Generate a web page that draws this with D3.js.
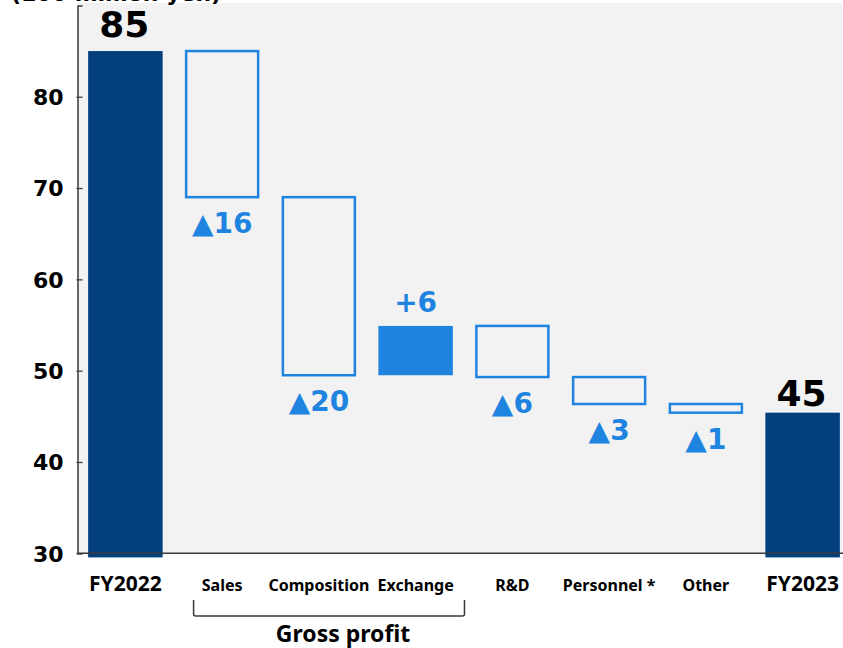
<!DOCTYPE html>
<html>
<head>
<meta charset="utf-8">
<script src="https://cdn.jsdelivr.net/npm/d3@7"></script>
<style>
  html, body { margin: 0; padding: 0; background: #ffffff; }
  svg { display: block; }
</style>
</head>
<body>
<svg id="chart" width="843" height="648"></svg>
<script>
// ---------- data ----------
const categories = ["FY2022", "Sales", "Composition", "Exchange", "R&D", "Personnel *", "Other", "FY2023"];
const kinds      = ["total", "delta", "delta", "delta", "delta", "delta", "delta", "total"];
const values     = [85, -16, -19.5, 5.4, -5.6, -2.95, -0.95, 45.4];
const valueLabels = ["85", "▲16", "▲20", "+6", "▲6", "▲3", "▲1", "45"];
const yTicks     = [30, 40, 50, 60, 70, 80];
const yDomain    = [30, 90];
const unitLabel  = "(100 million yen)";
const groupLabel = "Gross profit";
const groupMembers = ["Sales", "Exchange"];

// ---------- layout ----------
const W = 843, H = 648;
const plot = { left: 77, right: 851, top: 5.4, bottom: 553.3 };
const navy = "#033e7d", blue = "#1f84e0", axisCol = "#3a3a3a";
const numFont = "'DejaVu Sans', Verdana, sans-serif";
const txtFont = "'Noto Sans', 'DejaVu Sans', sans-serif";

const svg = d3.select("#chart");

const x = d3.scaleBand().domain(categories).range([plot.left, plot.right])
  .paddingInner(0.23).paddingOuter(0.115);
const y = d3.scaleLinear().domain(yDomain).range([plot.bottom, plot.top]);

// compute waterfall segments
let running = 0;
const segs = categories.map((c, i) => {
  let lo, hi;
  if (kinds[i] === "total") {
    running = values[i];
    lo = yDomain[0] - 0.45; hi = values[i];
  } else {
    const start = running;
    running = running + values[i];
    lo = Math.min(start, running); hi = Math.max(start, running);
  }
  return { cat: c, kind: kinds[i], v: values[i], lo, hi, label: valueLabels[i] };
});

// background
svg.append("rect")
  .attr("x", plot.left).attr("y", 3)
  .attr("width", W - 1 - plot.left).attr("height", plot.bottom - 3)
  .attr("fill", "#f2f2f2");

// unit label (partly off top, as in the source)
svg.append("text")
  .attr("x", 11).attr("y", 1)
  .attr("font-family", numFont).attr("font-weight", "bold")
  .attr("font-size", 22).attr("fill", "#000")
  .text(unitLabel);

// bars
const bw = x.bandwidth();
segs.forEach(s => {
  const x0 = x(s.cat);
  if (s.kind === "total") {
    svg.append("rect")
      .attr("x", x0).attr("y", y(s.hi))
      .attr("width", bw).attr("height", y(s.lo) - y(s.hi))
      .attr("fill", navy);
  } else if (s.v > 0) {
    svg.append("rect")
      .attr("x", x0).attr("y", y(s.hi))
      .attr("width", bw).attr("height", y(s.lo) - y(s.hi))
      .attr("fill", blue);
  } else {
    svg.append("rect")
      .attr("x", x0 + 1.25).attr("y", y(s.hi))
      .attr("width", bw - 2.5).attr("height", y(s.lo) - y(s.hi))
      .attr("fill", "none").attr("stroke", blue).attr("stroke-width", 2.5);
  }
});

// value labels
segs.forEach((s, i) => {
  const cx = x(s.cat) + bw / 2;
  const t = svg.append("text")
    .attr("text-anchor", "middle")
    .attr("font-family", numFont).attr("font-weight", "bold");
  if (s.kind === "total") {
    t.attr("x", cx - 1).attr("y", y(s.hi) - (i === 0 ? 14 : 6.5))
      .attr("font-size", 36).attr("fill", "#000").text(s.label);
  } else if (s.v > 0) {
    t.attr("x", cx).attr("y", y(s.hi) - 14)
      .attr("font-size", 28).attr("fill", blue).text(s.label);
  } else {
    t.attr("x", cx).attr("y", y(s.lo) + 36)
      .attr("font-size", 28).attr("fill", blue).text(s.label);
  }
});

// y axis
const yAxis = d3.axisLeft(y).tickValues(yTicks).tickSizeInner(-5).tickSizeOuter(-5).tickPadding(14)
  .tickFormat(d3.format("d"));
const gy = svg.append("g").attr("transform", `translate(${plot.left + 0.5},0)`).call(yAxis);
gy.select(".domain").attr("stroke", axisCol).attr("stroke-width", 1.5);
gy.selectAll(".tick line").attr("stroke", axisCol).attr("stroke-width", 1.3).attr("x1", -1);
gy.selectAll(".tick text")
  .attr("font-family", numFont).attr("font-weight", "bold")
  .attr("font-size", 22).attr("fill", "#000").attr("dy", "0.36em");

// x axis baseline
svg.append("line")
  .attr("x1", plot.left).attr("x2", W)
  .attr("y1", y(yDomain[0])).attr("y2", y(yDomain[0]))
  .attr("stroke", axisCol).attr("stroke-width", 1.5);

// category labels
categories.forEach((c, i) => {
  svg.append("text")
    .attr("x", x(c) + bw / 2).attr("y", 591)
    .attr("text-anchor", "middle")
    .attr("font-family", txtFont).attr("font-weight", "bold")
    .attr("font-size", kinds[i] === "total" ? 21 : 16)
    .attr("fill", "#000")
    .text(c);
});

// group bracket
const step = x.step();
const bx0 = x(groupMembers[0]) + bw / 2 - step * 0.295;
const bx1 = x(groupMembers[1]) + bw / 2 + step * 0.505;
svg.append("path")
  .attr("d", `M${bx0},600 L${bx0},614 Q${bx0},616 ${bx0 + 2},616 L${bx1 - 2},616 Q${bx1},616 ${bx1},614 L${bx1},600`)
  .attr("fill", "none").attr("stroke", axisCol).attr("stroke-width", 1.5);
svg.append("text")
  .attr("x", (bx0 + bx1) / 2 + 14).attr("y", 642)
  .attr("text-anchor", "middle")
  .attr("font-family", txtFont).attr("font-weight", "bold")
  .attr("font-size", 23).attr("fill", "#000")
  .text(groupLabel);
</script>
</body>
</html>
